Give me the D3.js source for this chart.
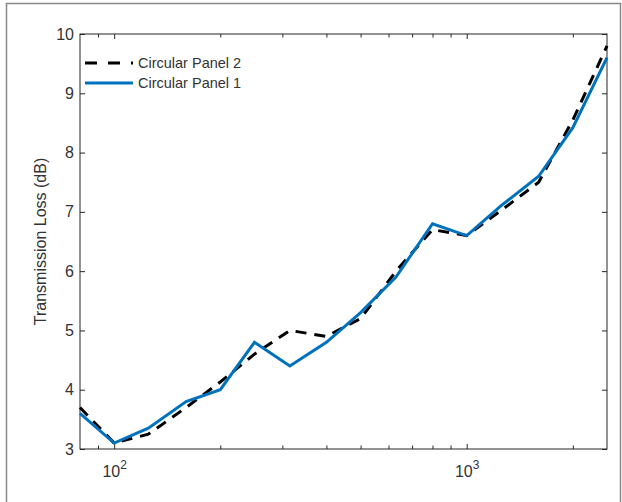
<!DOCTYPE html>
<html>
<head>
<meta charset="utf-8">
<title>Transmission Loss</title>
<script src="https://cdn.jsdelivr.net/npm/d3@7/dist/d3.min.js"></script>
<style>
body { margin: 0; background: #fff; }
svg text { font-family: "Liberation Sans", Arial, sans-serif; fill: #333; }
.axis line { stroke: #262626; stroke-width: 1; }
.axis path { display: none; }
.axis text { font-size: 16px; }
</style>
</head>
<body>
<div id="chart"></div>
<script>
// 1/3 octave band centre frequencies (Hz)
var freqs = [80, 100, 125, 160, 200, 250, 315, 400, 500, 630, 800, 1000, 1250, 1600, 2000, 2500];
// transmission loss (dB)
var panel2 = [3.7, 3.1, 3.25, 3.7, 4.13, 4.6, 5.0, 4.9, 5.2, 6.0, 6.7, 6.6, 7.02, 7.5, 8.55, 9.8];
var panel1 = [3.6, 3.1, 3.35, 3.8, 4.0, 4.8, 4.4, 4.8, 5.3, 5.9, 6.8, 6.6, 7.1, 7.6, 8.42, 9.6];
var seriesNames = ["Circular Panel 2", "Circular Panel 1"];
var yTicks = [3, 4, 5, 6, 7, 8, 9, 10];
var xMajor = [100, 1000];
var xMinor = [90, 200, 300, 400, 500, 600, 700, 800, 900, 2000];

var width = 622, height = 502;
var margin = {top: 34, right: 15, bottom: 53, left: 80};
var w = width - margin.left - margin.right,
    h = height - margin.top - margin.bottom;

var svg = d3.select("#chart").append("svg")
    .attr("width", width)
    .attr("height", height);

// outer figure frame
svg.append("path")
    .attr("d", "M6.5," + height + "V3.5H620.5V" + height)
    .attr("fill", "none")
    .attr("stroke", "#888")
    .attr("stroke-width", 1.5);

var g = svg.append("g")
    .attr("transform", "translate(" + margin.left + "," + margin.top + ")");

var x = d3.scaleLog().domain([80, 2500]).range([0, w]);
var y = d3.scaleLinear().domain([3, 10]).range([h, 0]);

// y axes
g.append("g").attr("class", "axis")
    .call(d3.axisLeft(y).tickValues(yTicks).tickFormat(d3.format("d"))
        .tickSize(-5).tickSizeOuter(0).tickPadding(6));
g.append("g").attr("class", "axis")
    .attr("transform", "translate(" + w + ",0)")
    .call(d3.axisRight(y).tickValues(yTicks).tickSize(-5).tickSizeOuter(0).tickFormat(""));

// x axes (bottom + top), major and minor ticks
g.append("g").attr("class", "axis")
    .attr("transform", "translate(0," + h + ")")
    .call(d3.axisBottom(x).tickValues(xMinor).tickSize(-3.5).tickSizeOuter(0).tickFormat(""));
g.append("g").attr("class", "axis")
    .call(d3.axisTop(x).tickValues(xMinor).tickSize(-3.5).tickSizeOuter(0).tickFormat(""));
g.append("g").attr("class", "axis")
    .call(d3.axisTop(x).tickValues(xMajor).tickSize(-5).tickSizeOuter(0).tickFormat(""));
var xb = g.append("g").attr("class", "axis")
    .attr("transform", "translate(0," + h + ")")
    .call(d3.axisBottom(x).tickValues(xMajor).tickSize(-5).tickSizeOuter(0));

xb.selectAll("text")
    .attr("y", 28).attr("dy", null)
    .text(null)
    .each(function(d) {
        var t = d3.select(this);
        t.append("tspan").text("10");
        t.append("tspan").attr("dy", -8).style("font-size", "12px").text(Math.round(Math.log10(d)));
    });

// box
g.append("rect")
    .attr("width", w).attr("height", h)
    .attr("fill", "none")
    .attr("stroke", "#262626")
    .attr("stroke-width", 1);

var line = d3.line()
    .x(function(d) { return x(d[0]); })
    .y(function(d) { return y(d[1]); });

g.append("path")
    .datum(d3.zip(freqs, panel2))
    .attr("d", line)
    .attr("fill", "none")
    .attr("stroke", "#000")
    .attr("stroke-width", 3)
    .attr("stroke-dasharray", "11,8");

g.append("path")
    .datum(d3.zip(freqs, panel1))
    .attr("d", line)
    .attr("fill", "none")
    .attr("stroke", "#0072BD")
    .attr("stroke-width", 3);

// y label
svg.append("text")
    .attr("transform", "translate(46," + (margin.top + h / 2) + ") rotate(-90)")
    .attr("text-anchor", "middle")
    .style("font-size", "16px")
    .text("Transmission Loss (dB)");

// legend
var legend = g.append("g").attr("transform", "translate(5,29)");
var styles = [{stroke: "#000", dash: "12,11"}, {stroke: "#0072BD", dash: null}];
seriesNames.forEach(function(name, i) {
    var row = legend.append("g").attr("transform", "translate(0," + (i * 20) + ")");
    row.append("line")
        .attr("x1", 0).attr("x2", 48)
        .attr("stroke", styles[i].stroke)
        .attr("stroke-width", 3)
        .attr("stroke-dasharray", styles[i].dash);
    row.append("text")
        .attr("x", 53).attr("dy", "0.35em")
        .style("font-size", "14.5px")
        .text(name);
});
</script>
</body>
</html>
